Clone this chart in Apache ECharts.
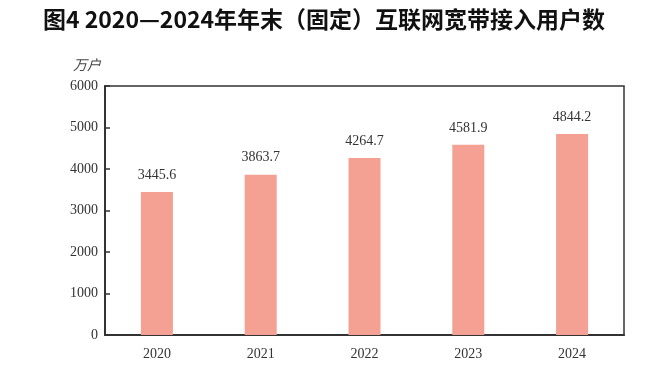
<!DOCTYPE html>
<html>
<head>
<meta charset="utf-8">
<script src="https://cdn.jsdelivr.net/npm/echarts@6/dist/echarts.min.js"></script>
<style>
  html, body { margin: 0; padding: 0; background: #fff; }
  #chart { width: 648px; height: 378px; }
</style>
</head>
<body>
<div id="chart"></div>
<script>
const years = ["2020", "2021", "2022", "2023", "2024"];
const users = [3445.6, 3863.7, 4264.7, 4581.9, 4844.2];
const yTicks = [0, 1000, 2000, 3000, 4000, 5000, 6000];

const chart = echarts.init(document.getElementById("chart"));
const numFont = "'Liberation Serif', 'DejaVu Serif', serif";

const option = {
  animation: false,
  title: {
    text: "图4 2020—2024年年末（固定）互联网宽带接入用户数",
    left: "center",
    top: 3,
    textStyle: {
      fontFamily: "'Noto Sans CJK SC'",
      fontWeight: "bold",
      fontSize: 23,
      color: "#111",
    },
  },
  grid: {
    left: 105,
    right: 24,
    top: 86,
    bottom: 43,
    show: true,
    borderColor: "#333",
    borderWidth: 1.5,
  },
  xAxis: {
    type: "category",
    data: years,
    axisLine: { lineStyle: { color: "#333", width: 2 } },
    axisTick: { inside: true, length: 6, lineStyle: { color: "#333", width: 1.5 } },
    axisLabel: {
      margin: 12,
      color: "#333",
      fontSize: 14,
      fontFamily: numFont,
    },
  },
  yAxis: {
    type: "value",
    min: yTicks[0],
    max: yTicks[yTicks.length - 1],
    interval: 1000,
    name: "万户",
    nameLocation: "end",
    nameGap: 14,
    nameTextStyle: {
      align: "right",
      padding: [0, 4, 0, 0],
      color: "#444",
      fontSize: 14,
      fontStyle: "italic",
      fontFamily: "'Noto Sans CJK SC'",
    },
    splitLine: { show: false },
    axisLine: { show: true, lineStyle: { color: "#333", width: 2 } },
    axisTick: { show: true, inside: true, length: 5, lineStyle: { color: "#333", width: 1.5 } },
    axisLabel: {
      margin: 7,
      color: "#333",
      fontSize: 14,
      fontFamily: numFont,
      formatter: (v) => String(v),
    },
  },
  series: [
    {
      type: "bar",
      data: users,
      barWidth: 32,
      itemStyle: { color: "#F4A092" },
      label: {
        show: true,
        position: "top",
        distance: 10,
        color: "#333",
        fontSize: 14,
        fontFamily: numFont,
      },
    },
  ],
};

chart.setOption(option);
</script>
</body>
</html>
